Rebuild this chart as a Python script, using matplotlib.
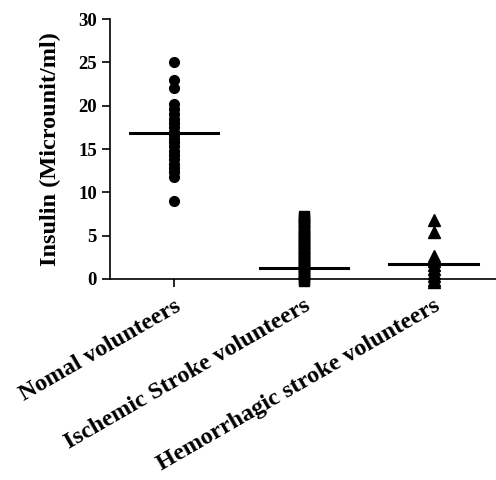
import matplotlib
matplotlib.use("Agg")
import matplotlib.pyplot as plt

plt.rcParams['font.family'] = ['Liberation Serif', 'DejaVu Serif']
plt.rcParams['font.weight'] = 'bold'

# группы и значения
groups = ['Nomal volunteers', 'Ischemic Stroke volunteers', 'Hemorrhagic stroke volunteers']
normal = [25, 23, 22, 20.2, 19.6, 19, 18.5, 18, 17.5, 17, 16.6, 16.2, 15.8,
          15.3, 14.8, 14.3, 13.8, 13.3, 12.8, 12.3, 11.8, 9]
ischemic = [7.3, 7.0, 6.7, 6.4, 6.1, 5.7, 5.4, 5.1, 4.8, 4.5, 4.2, 3.9, 3.6,
            3.3, 3.0, 2.7, 2.4, 2.1, 1.8, 1.5, 1.2, 0.9, 0.6, 0.3, 0.0, -0.3]
hemorrhagic = [6.8, 5.4, 2.7, 2.1, 1.6, 1.1, 0.7, 0.3, -0.1, -0.4]
means = [16.8, 1.3, 1.7]

fig = plt.figure(figsize=(4.96, 4.8), dpi=100)
ax = fig.add_axes([0.222, 0.419, 0.778, 0.541])

ax.plot([0] * len(normal), normal, 'o', color='black', ms=7, clip_on=False)
ax.plot([1] * len(ischemic), ischemic, 's', color='black', ms=6.5, clip_on=False)
ax.plot([2] * len(hemorrhagic), hemorrhagic, '^', color='black', ms=8, clip_on=False)

# линии средних
for i, m in enumerate(means):
    ax.plot([i - 0.34, i + 0.34], [m, m], color='black', lw=2.2, clip_on=False)

ax.set_xlim(-0.49, 2.48)
ax.set_ylim(0, 30)
ax.set_yticks(range(0, 31, 5))
ax.set_xticks(range(3))
ax.set_xticklabels(groups, rotation=30, ha='right', rotation_mode='anchor', fontsize=17.5)
ax.set_ylabel('Insulin (Microunit/ml)', fontsize=17.5, fontweight='bold', labelpad=12)
ax.tick_params(axis='y', labelsize=13.5, length=6, width=1.2, direction='out')
ax.tick_params(axis='x', length=6, width=1.2, direction='out', pad=6)
ax.spines['top'].set_visible(False)
ax.spines['right'].set_visible(False)
ax.spines['left'].set_linewidth(1.2)
ax.spines['bottom'].set_linewidth(1.2)

plt.savefig('out.png', dpi=100)
